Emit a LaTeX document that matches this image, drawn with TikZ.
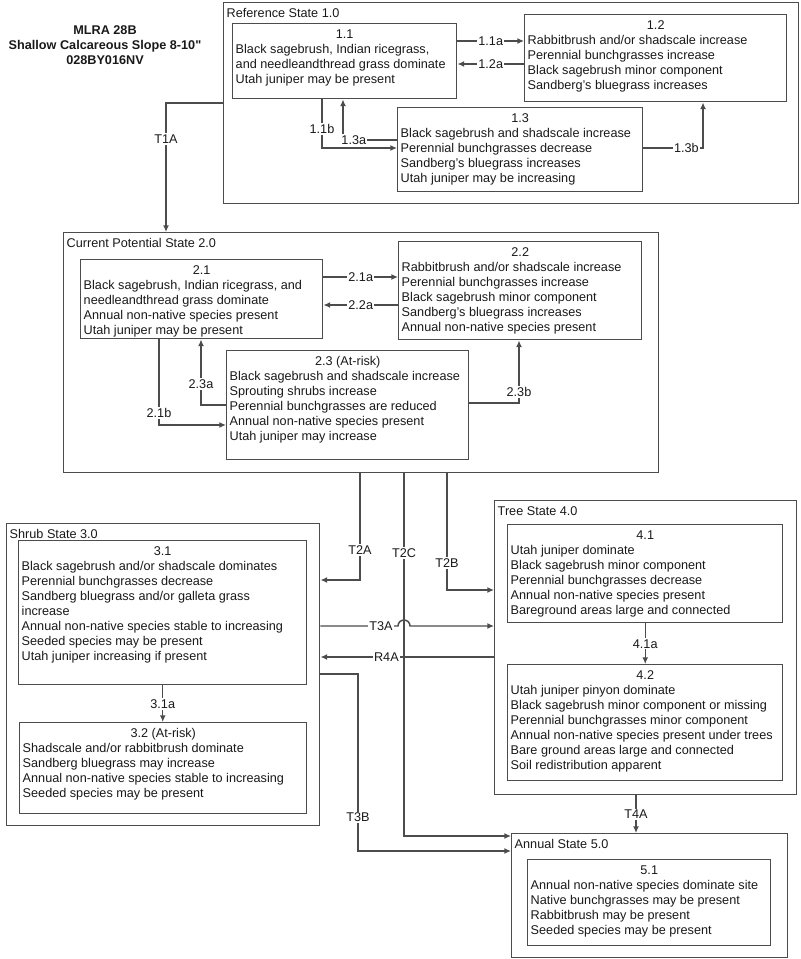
\documentclass[tikz,border=0pt]{standalone}
\usepackage{fontspec}
\setmainfont{Liberation Sans}
\usetikzlibrary{arrows.meta}
\newlength{\unidad}
\setlength{\unidad}{0.75pt}
\newcommand{\cuadro}[4]{\parbox[c][#2\unidad][t]{#1\unidad}{\centering\rule{0pt}{11pt}#3\par\raggedright\setlength{\leftskip}{3\unidad}#4}}
\newcommand{\estado}[3]{\parbox[c][#2\unidad][t]{#1\unidad}{\hspace*{3\unidad}\rule{0pt}{11pt}#3}}
\tikzstyle{Caja}=[draw=black!70, line width=1.1pt, inner sep=0pt, anchor=north west, text=black!90]
\tikzstyle{Titulo}=[align=center, text=black!90, font=\fontsize{9.5}{11.25}\selectfont\bfseries]
\tikzstyle{Etiqueta}=[fill=white, inner sep=1pt, text=black!90]
\tikzstyle{Flecha}=[->, >={Latex[length=5pt, width=4.5pt]}, draw=black!70, line width=1.1pt]

\begin{document}
\begin{tikzpicture}[x=0.75pt, y=-0.75pt, font=\fontsize{9.5}{11.25}\selectfont]
			\useasboundingbox (0,0) rectangle (800,959);
			%Titulo
			\node[Titulo]	(titulo)	at (105,45)	{MLRA 28B\\Shallow Calcareous Slope 8-10\textquotedbl\\028BY016NV};

			%Estados
			\node[Caja]	(ref)		at (223,2)		{\estado{575}{201}{Reference State 1.0}};
			\node[Caja]	(cur)		at (63,232)		{\estado{595}{240}{Current Potential State 2.0}};
			\node[Caja]	(shrub)	at (6,523)		{\estado{313}{302}{Shrub State 3.0}};
			\node[Caja]	(tree)	at (494,500)	{\estado{302}{294}{Tree State 4.0}};
			\node[Caja]	(annual)	at (511,833)	{\estado{276}{124}{Annual State 5.0}};

			%Comunidades
			\node[Caja]	(b11)	at (232,23)	{\cuadro{224}{75}{1.1}{Black sagebrush, Indian ricegrass,\\and needleandthread grass dominate\\Utah juniper may be present}};
			\node[Caja]	(b12)	at (524,14)	{\cuadro{262}{87}{1.2}{Rabbitbrush and/or shadscale increase\\Perennial bunchgrasses increase\\Black sagebrush minor component\\Sandberg's bluegrass increases}};
			\node[Caja]	(b13)	at (397,107)	{\cuadro{245}{84}{1.3}{Black sagebrush and shadscale increase\\Perennial bunchgrasses decrease\\Sandberg's bluegrass increases\\Utah juniper may be increasing}};

			\node[Caja]	(b21)	at (80,259)	{\cuadro{242}{79}{2.1}{Black sagebrush, Indian ricegrass, and\\needleandthread grass dominate\\Annual non-native species present\\Utah juniper may be present}};
			\node[Caja]	(b22)	at (398,241)	{\cuadro{243}{98}{2.2}{Rabbitbrush and/or shadscale increase\\Perennial bunchgrasses increase\\Black sagebrush minor component\\Sandberg's bluegrass increases\\Annual non-native species present}};
			\node[Caja]	(b23)	at (226,350)	{\cuadro{242}{109}{2.3 (At-risk)}{Black sagebrush and shadscale increase\\Sprouting shrubs increase\\Perennial bunchgrasses are reduced\\Annual non-native species present\\Utah juniper may increase}};

			\node[Caja]	(b31)	at (18,540)	{\cuadro{288}{144}{3.1}{Black sagebrush and/or shadscale dominates\\Perennial bunchgrasses decrease\\Sandberg bluegrass and/or galleta grass\\increase\\Annual non-native species stable to increasing\\Seeded species may be present\\Utah juniper increasing if present}};
			\node[Caja]	(b32)	at (19,722)	{\cuadro{287}{91}{3.2 (At-risk)}{Shadscale and/or rabbitbrush dominate\\Sandberg bluegrass may increase\\Annual non-native species stable to increasing\\Seeded species may be present}};

			\node[Caja]	(b41)	at (507,524)	{\cuadro{275}{98}{4.1}{Utah juniper dominate\\Black sagebrush minor component\\Perennial bunchgrasses decrease\\Annual non-native species present\\Bareground areas large and connected}};
			\node[Caja]	(b42)	at (507,664)	{\cuadro{275}{116}{4.2}{Utah juniper pinyon dominate\\Black sagebrush minor component or missing\\Perennial bunchgrasses minor component\\Annual non-native species present under trees\\Bare ground areas large and connected\\Soil redistribution apparent}};

			\node[Caja]	(b51)	at (527,859)	{\cuadro{243}{86}{5.1}{Annual non-native species dominate site\\Native bunchgrasses may be present\\Rabbitbrush may be present\\Seeded species may be present}};

			%Lineas
			\draw[Flecha] (b11.east |- 0,41) -- node[Etiqueta]{1.1a} (b12.west |- 0,41);
			\draw[Flecha] (b12.west |- 0,64) -- node[Etiqueta]{1.2a} (b11.east |- 0,64);
			\draw[Flecha] (b11.south -| 322,0) |- node[Etiqueta, pos=0.3]{1.1b} (b13.west |- 0,148);
			\draw[Flecha] (b13.west |- 0,140) -| node[Etiqueta, pos=0.4]{1.3a} (b11.south -| 343,0);
			\draw[Flecha] (b13.east |- 0,148) -| node[Etiqueta, pos=0.36]{1.3b} (b12.south -| 703,0);
			\draw[Flecha] (ref.west |- 0,103) -| node[Etiqueta, pos=0.64]{T1A} (cur.north -| 166,0);

			\draw[Flecha] (b21.east |- 0,277) -- node[Etiqueta]{2.1a} (b22.west |- 0,277);
			\draw[Flecha] (b22.west |- 0,305) -- node[Etiqueta]{2.2a} (b21.east |- 0,305);
			\draw[Flecha] (b23.west |- 0,405) -| node[Etiqueta, pos=0.66]{2.3a} (b21.south -| 201,0);
			\draw[Flecha] (b21.south -| 159,0) |- node[Etiqueta, pos=0.43]{2.1b} (b23.west |- 0,425);
			\draw[Flecha] (b23.east |- 0,403) -| node[Etiqueta, pos=0.59]{2.3b} (b22.south -| 519,0);

			\draw[Flecha] (cur.south -| 360,0) |- node[Etiqueta, pos=0.36]{T2A} (shrub.east |- 0,580);
			\draw[Flecha] (cur.south -| 447,0) |- node[Etiqueta, pos=0.385]{T2B} (tree.west |- 0,590);
			\draw[Flecha] (cur.south -| 404,0) |- node[Etiqueta, pos=0.11]{T2C} (annual.west |- 0,836);

			\coordinate (salto) at (404,626);
			\draw[Flecha] (shrub.east |- salto) -- node[Etiqueta, pos=0.78]{T3A} ([xshift=-4.5pt]salto) arc[start angle=180, end angle=0, radius=4.5pt] -- (tree.west |- salto);
			\draw[Flecha] (tree.west |- 0,657) -- node[Etiqueta, pos=0.62]{R4A} (shrub.east |- 0,657);
			\draw[Flecha] (shrub.east |- 0,674) -| node[Etiqueta, pos=0.905]{T3B} (358,851) -- (annual.west |- 0,851);

			\draw[Flecha] (b31.south) -- node[Etiqueta]{3.1a} (b32.north -| b31.south);
			\draw[Flecha] (b41.south) -- node[Etiqueta]{4.1a} (b42.north -| b41.south);
			\draw[Flecha] (tree.south -| 636,0) -- node[Etiqueta]{T4A} (annual.north -| 636,0);

		\end{tikzpicture}
\end{document}
